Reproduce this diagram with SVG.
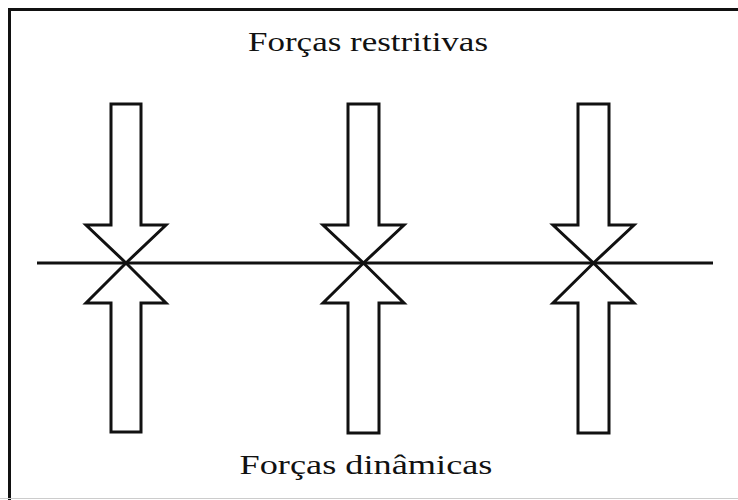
<svg xmlns="http://www.w3.org/2000/svg" width="738" height="500" viewBox="0 0 738 500">
<style>
.frame{fill:none;stroke:#111;stroke-width:3}
.arrow{fill:#fff;stroke:#111;stroke-width:3;stroke-linejoin:miter}
.axis{stroke:#111;stroke-width:3}
.lbl{font-family:"Liberation Serif","DejaVu Serif",serif;font-size:28px;fill:#111;text-anchor:middle}
</style>
<rect width="738" height="500" fill="#fff"/>
<path class="frame" d="M9.5,500 V9.5 H738"/>
<line x1="0" y1="498.5" x2="738" y2="498.5" stroke="#ccc" stroke-width="1"/>
<g id="connectors">
<line class="axis" x1="37" y1="263" x2="713" y2="263"/>
</g>
<g id="arrow-top-1"><path class="arrow" d="M111,104 H141 V225 H166 L126,263 L86,225 H111 Z"/></g>
<g id="arrow-bottom-1"><path class="arrow" d="M111,432 H141 V303 H166 L126,263 L86,303 H111 Z"/></g>
<g id="arrow-top-2"><path class="arrow" d="M348,104 H379 V225 H404 L363.5,263 L323,225 H348 Z"/></g>
<g id="arrow-bottom-2"><path class="arrow" d="M348,433 H379 V303 H404 L363.5,263 L323,303 H348 Z"/></g>
<g id="arrow-top-3"><path class="arrow" d="M578,104 H609 V225 H634 L593.5,263 L553,225 H578 Z"/></g>
<g id="arrow-bottom-3"><path class="arrow" d="M578,433 H609 V303 H634 L593.5,263 L553,303 H578 Z"/></g>
<g id="label-top"><text class="lbl" x="368" y="51" textLength="240" lengthAdjust="spacingAndGlyphs">Forças restritivas</text></g>
<g id="label-bottom"><text class="lbl" x="366" y="474" textLength="253" lengthAdjust="spacingAndGlyphs">Forças dinâmicas</text></g>
</svg>
